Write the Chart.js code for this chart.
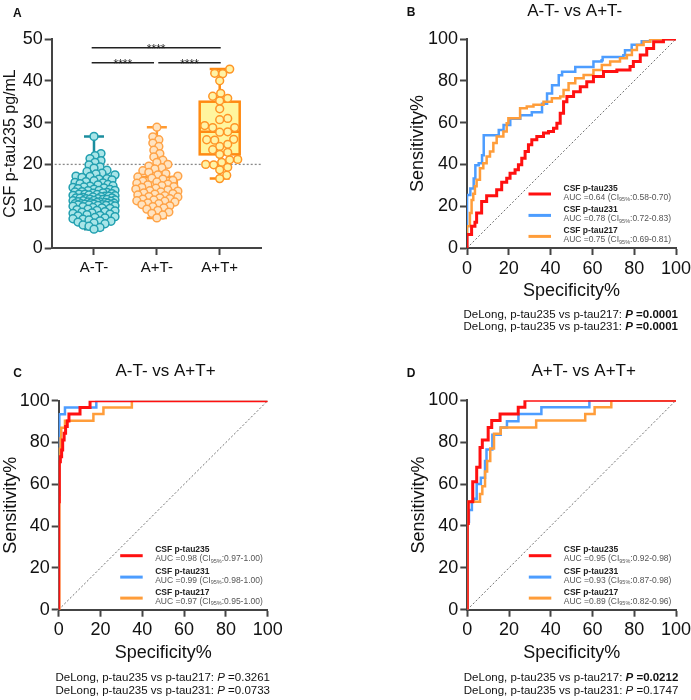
<!DOCTYPE html>
<html><head><meta charset="utf-8">
<script src="https://cdn.jsdelivr.net/npm/chart.js@4.4.1/dist/chart.umd.min.js"></script>
<style>
html,body{margin:0;padding:0;background:#fff;}
#wrap{position:relative;width:691px;height:700px;overflow:hidden;background:#fff;}
canvas{position:absolute;}
</style></head><body>
<div id="wrap">
<canvas id="cA" width="345" height="345" style="left:0;top:0"></canvas>
<canvas id="cB" width="346" height="345" style="left:345px;top:0"></canvas>
<canvas id="cC" width="345" height="355" style="left:0;top:345px"></canvas>
<canvas id="cD" width="346" height="355" style="left:345px;top:345px"></canvas>
</div>
<script>
// ---------------- DATA ----------------
const groupLabels = ['A-T-', 'A+T-', 'A+T+'];
const ptauATneg = [26.7, 22.6, 22.1, 21.4, 20.9, 20.5, 19.9, 19.4, 19.1, 18.6, 18.3, 17.9, 17.7, 17.5, 17.2, 17.1, 16.9, 16.6, 16.5, 16.3, 16.1, 15.9, 15.7, 15.6, 15.4, 15.2, 15.1, 14.9, 14.8, 14.6, 14.5, 14.4,
  14.2, 14.1, 14.0, 13.8, 13.8, 13.7, 13.5, 13.4, 13.3, 13.2, 13.1, 13.0, 12.9, 12.9, 12.8, 12.7, 12.6, 12.5, 12.4, 12.4, 12.3, 12.2, 12.1, 12.0, 12.0, 11.9, 11.8, 11.8, 11.7, 11.6, 11.6, 11.5, 11.4, 11.3, 11.3, 11.2, 11.1, 11.0, 11.0, 10.9, 10.9, 10.8, 10.7, 10.7, 10.6, 10.6, 10.5, 10.5, 10.4, 10.4, 10.3, 10.3, 10.2, 10.2, 10.1,
  10.0, 9.9, 9.7, 9.6, 9.5, 9.3, 9.2, 9.0, 8.9, 8.7, 8.6, 8.4, 8.3, 8.1, 8.0, 7.8, 7.7, 7.5, 7.3, 7.2, 7.0, 6.9, 6.7, 6.5, 6.4, 6.2, 6.0, 5.8, 5.5, 5.2, 4.9, 4.5];
const ptauAposTneg = [28.9, 26.6, 25.9, 25.1, 24.3, 23.4, 22.6, 21.8, 21.0, 20.5, 20.0, 19.6, 19.2, 18.9, 18.5, 18.1, 17.8, 17.5, 17.2, 17.0, 16.7, 16.5, 16.2, 16.0, 15.8, 15.5, 15.3, 15.1, 14.9, 14.7, 14.5, 14.3, 14.1, 13.9, 13.7, 13.6, 13.4, 13.2, 13.0, 12.9, 12.7, 12.5, 12.3, 12.2, 12.0, 11.8, 11.7, 11.5, 11.3, 11.2, 11.0, 10.8, 10.6, 10.4, 10.1, 9.9, 9.6, 9.3, 9.0, 8.6, 8.3, 7.9, 7.2];
const ptauAposTpos = [42.8, 41.8, 41.7, 40.0, 37.0, 36.3, 35.8, 35.2, 33.3, 31.0, 30.7, 29.3, 28.8, 28.8, 27.8, 27.7, 26.0, 25.9, 25.8, 24.8, 24.3, 23.5, 22.9, 22.4, 21.2, 21.1, 20.5, 20.0, 19.9, 19.3, 18.7, 17.4, 16.6];
const boxMin = [4.5, 7.2, 16.6];
const boxQ1 = [10.2, 11.5, 22.4];
const boxMedian = [11.7, 13.7, 27.8];
const boxQ3 = [14.7, 17.0, 35.0];
const boxMax = [26.7, 28.9, 42.8];
const cutoffValue = 20;
const yTicksA = [0, 10, 20, 30, 40, 50];
const sigLabel = '****';
const rocTicks = [0, 20, 40, 60, 80, 100];
const markerNames = ['CSF p-tau235', 'CSF p-tau231', 'CSF p-tau217'];

// Panel B: A-T- vs A+T-
const bTitle = 'A-T- vs A+T-';
const bRedX = [0, 0, 2.2, 3.8, 4.6, 7, 9.4, 14.2, 16.6, 19, 20.6, 23, 24.6, 26.2, 27.8, 29.4, 31, 33.4, 36.6, 39, 41.4, 43, 44.6, 46.2, 47.8, 51, 54.2, 57.3, 60.5, 65.3, 71.7, 78, 79.6, 82.9, 86, 89.3, 94, 100];
const bRedY = [0, 6.4, 10.4, 12.3, 16.7, 22.3, 25, 27.9, 31.4, 33.4, 35.8, 37.4, 39.8, 43, 46.2, 49.4, 51.8, 53.3, 55, 55.7, 57.3, 59.7, 64.5, 70, 72.5, 74.8, 77.2, 79.6, 82, 84.4, 85.2, 86.8, 89.2, 92.3, 95.5, 98.7, 100, 100];
const bBlueX = [0, 0, 1.6, 3.2, 4, 5.6, 7.2, 8, 13.5, 15.2, 17.5, 20.7, 25.5, 31, 35.9, 38.3, 40.7, 43.9, 45.5, 50.2, 51.8, 57, 60.5, 64.4, 64.9, 74.8, 75.6, 78.8, 83.6, 87.6, 100];
const bBlueY = [0, 25.4, 28.5, 33.3, 39.6, 40.5, 44.4, 54, 54, 56.4, 58.8, 61.9, 63.5, 65, 69, 73.9, 77.9, 82.7, 84.3, 84.3, 86.6, 86.6, 89.2, 89.8, 91.4, 92.2, 94.6, 97.3, 98.9, 100, 100];
const bOrangeX = [0, 0, 1.4, 2.2, 3, 3.8, 4.6, 6.2, 7.8, 9.4, 11, 12.6, 14.2, 17.4, 19, 19.8, 25.4, 28.6, 31.8, 36.6, 40.6, 44.6, 46.2, 48.6, 51.8, 55.8, 60.5, 64.5, 68.5, 73.2, 76.5, 78.9, 81.3, 84.5, 87.7, 100];
const bOrangeY = [0, 10.4, 16.7, 23, 26, 29.5, 32.6, 38.2, 40.6, 43.8, 46.2, 50.2, 53.3, 55.7, 59.7, 62.1, 66.9, 67.7, 68.5, 70, 71.7, 72.5, 75.6, 78.8, 81.2, 82.8, 85.2, 87.6, 89.2, 90.8, 92.4, 94.7, 97.1, 98.7, 100, 100];
const bAUC = ['0.64', '0.78', '0.75'];
const bCI = ['0.58-0.70', '0.72-0.83', '0.69-0.81'];
const bDeLongP = ['0.0001', '0.0001'];
const bDeLongSig = [true, true];

// Panel C: A-T- vs A+T+
const cTitle = 'A-T- vs A+T+';
const cRedX = [0, 0, 0.3, 0.8, 1.4, 1.9, 2.6, 3.3, 4.1, 4.9, 10.2, 15, 100];
const cRedY = [0, 51.7, 70.8, 73.2, 76.4, 81.2, 84.4, 87.6, 90.3, 93.6, 96.8, 100, 100];
const cBlueX = [0, 0, 0.3, 3, 18, 100];
const cBlueY = [0, 55, 93.5, 96.8, 100, 100];
const cOrangeX = [0, 0.3, 0.9, 1.2, 3.0, 16.6, 21.4, 35, 100];
const cOrangeY = [0, 77, 82, 87, 90.4, 93.6, 96.8, 100, 100];
const cAUC = ['0.98', '0.99', '0.97'];
const cCI = ['0.97-1.00', '0.98-1.00', '0.95-1.00'];
const cDeLongP = ['0.3261', '0.0733'];
const cDeLongSig = [false, false];

// Panel D: A+T- vs A+T+
const dTitle = 'A+T- vs A+T+';
const dRedX = [0, 0, 0.5, 2.6, 4.5, 6.1, 7.2, 10, 11.7, 15.7, 24.4, 27.6, 100];
const dRedY = [0, 41.2, 51.6, 61.1, 68, 77.5, 81, 87, 90.3, 93.5, 96.7, 100, 100];
const dBlueX = [0, 0, 0.8, 2.2, 3.2, 4.5, 6.5, 8.5, 9.2, 12, 16, 19, 24.5, 35.5, 58.5, 100];
const dBlueY = [0, 42, 47.6, 51.6, 53, 60, 63, 71, 76.5, 83.5, 87, 90, 93.5, 96.7, 100, 100];
const dOrangeX = [0, 0, 6.1, 7.2, 8.5, 9.5, 11, 12.8, 16, 33, 56.5, 61, 69, 100];
const dOrangeY = [0, 51.6, 55.3, 59, 66, 71, 77, 84, 87, 90.3, 93.5, 96.7, 100, 100];
const dAUC = ['0.95', '0.93', '0.89'];
const dCI = ['0.92-0.98', '0.87-0.98', '0.82-0.96'];
const dDeLongP = ['0.0212', '0.1747'];
const dDeLongSig = [true, false];
const deLongLabels = ['DeLong, p-tau235 vs p-tau217: ', 'DeLong, p-tau235 vs p-tau231: '];

// ---------------- STYLE / HELPERS ----------------
const FF = '"Liberation Sans", Arial, Helvetica, sans-serif';
const AXIS = '#444';
const rocColors = ['#ff1010', '#4d9dff', '#ff9d3a'];
const rocWidths = [3, 2.5, 2.5];
const ptColors = [
  {bg: '#a9e5e8', bd: '#22a0b0'},
  {bg: '#ffe3c0', bd: '#ffa347'},
  {bg: '#fff3a6', bd: '#ff9526'}];
const boxStyles = [
  {fill: '#c8eef0', stroke: '#1b8d9e'},
  {fill: '#fff5dc', stroke: '#ff9a30'},
  {fill: '#fff59e', stroke: '#ff8a12'}];

Chart.defaults.font.family = FF;
Chart.defaults.animation = false;

function font(size, weight, style) { return (style || '') + ' ' + (weight || 'normal') + ' ' + size + 'px ' + FF; }
function drawText(ctx, s, x, y, f, color, align) {
  ctx.font = f; ctx.fillStyle = color || '#111'; ctx.textAlign = align || 'left'; ctx.textBaseline = 'alphabetic';
  ctx.fillText(s, x, y);
}
function drawVText(ctx, s, x, y, f, color) {
  ctx.save(); ctx.translate(x, y); ctx.rotate(-Math.PI / 2);
  ctx.font = f; ctx.fillStyle = color || '#111'; ctx.textAlign = 'center'; ctx.textBaseline = 'alphabetic';
  ctx.fillText(s, 0, 0); ctx.restore();
}
function richRight(ctx, segs, xr, y, color) {
  let w = 0;
  segs.forEach(s => { ctx.font = s.f; w += ctx.measureText(s.t).width; });
  let x = xr - w;
  ctx.textAlign = 'left'; ctx.textBaseline = 'alphabetic'; ctx.fillStyle = color || '#111';
  segs.forEach(s => { ctx.font = s.f; ctx.fillText(s.t, x, y); x += ctx.measureText(s.t).width; });
}

function swarm(values, center, pxPerY, pxPerX, minDist, cap) {
  const idx = values.map((v, i) => i).sort((a, b) => values[a] - values[b]);
  const placed = [];
  const out = new Array(values.length);
  idx.forEach(i => {
    const py = values[i] * pxPerY;
    let best = 0, bestD = -1, chosen = null;
    for (let k = 0; k <= cap * 2; k++) {
      const cand = k === 0 ? 0 : (k % 2 ? 1 : -1) * Math.ceil(k / 2);
      let md = Infinity;
      for (const p of placed) { const d = Math.hypot(p.x - cand, p.y - py); if (d < md) md = d; }
      if (md >= minDist) { chosen = cand; break; }
      if (md > bestD) { bestD = md; best = cand; }
    }
    const off = chosen === null ? best : chosen;
    placed.push({x: off, y: py});
    out[i] = {x: center + off / pxPerX, y: values[i]};
  });
  return out;
}

function axisCommon(extra) {
  return Object.assign({
    type: 'linear',
    grid: {display: true, drawOnChartArea: false, drawTicks: true, tickLength: 7, tickWidth: 2, tickColor: AXIS},
    border: {display: true, color: AXIS, width: 2},
  }, extra);
}

// ---------------- PANEL A ----------------
const xMinA = 0.327, xMaxA = 3.657;
const pxPerXA = 62.85, pxPerYA = 4.186;
const groups = [ptauATneg, ptauAposTneg, ptauAposTpos];
const swarmParams = [[5.6, 21], [6.2, 21], [7.6, 21]];

const panelAPlugin = {
  id: 'panelA',
  beforeDatasetsDraw(chart) {
    const {ctx, chartArea: a, scales: {x, y}} = chart;
    ctx.save();
    ctx.strokeStyle = '#8a8a8a'; ctx.lineWidth = 1.3; ctx.setLineDash([2, 2]);
    const yc = y.getPixelForValue(cutoffValue);
    ctx.beginPath(); ctx.moveTo(a.left + 3, yc); ctx.lineTo(a.right, yc); ctx.stroke();
    ctx.setLineDash([]);
    groupLabels.forEach((g, i) => {
      const cx = x.getPixelForValue(i + 1), hw = 20, cw = 10;
      const q1 = y.getPixelForValue(boxQ1[i]), q3 = y.getPixelForValue(boxQ3[i]);
      const md = y.getPixelForValue(boxMedian[i]);
      const mn = y.getPixelForValue(boxMin[i]), mx = y.getPixelForValue(boxMax[i]);
      const st = boxStyles[i];
      ctx.lineWidth = 2.5; ctx.strokeStyle = st.stroke; ctx.fillStyle = st.fill;
      ctx.beginPath();
      ctx.moveTo(cx, q3); ctx.lineTo(cx, mx); ctx.moveTo(cx - cw, mx); ctx.lineTo(cx + cw, mx);
      ctx.moveTo(cx, q1); ctx.lineTo(cx, mn); ctx.moveTo(cx - cw, mn); ctx.lineTo(cx + cw, mn);
      ctx.stroke();
      ctx.fillRect(cx - hw, q3, hw * 2, q1 - q3);
      ctx.strokeRect(cx - hw, q3, hw * 2, q1 - q3);
      ctx.beginPath(); ctx.moveTo(cx - hw, md); ctx.lineTo(cx + hw, md); ctx.stroke();
    });
    ctx.restore();
  },
  afterDraw(chart) {
    const {ctx, chartArea: a, scales: {x, y}} = chart;
    ctx.save();
    const brackets = [[0.963, 3.016, 47.9], [0.963, 1.955, 44.3], [2.023, 3.016, 44.3]];
    ctx.strokeStyle = '#222'; ctx.lineWidth = 1.5;
    brackets.forEach(b => {
      const yy = y.getPixelForValue(b[2]);
      const x1 = x.getPixelForValue(b[0]), x2 = x.getPixelForValue(b[1]);
      ctx.beginPath(); ctx.moveTo(x1, yy); ctx.lineTo(x2, yy); ctx.stroke();
      drawText(ctx, sigLabel, (x1 + x2) / 2, yy + 5.5, font(12), '#222', 'center');
    });
    drawText(ctx, 'A', a.left - 38.7, 16.5, font(12, 'bold'), '#111');
    drawVText(ctx, 'CSF p-tau235 pg/mL', a.left - 37, (a.top + a.bottom) / 2, font(16), '#111');
    ctx.restore();
  }
};

new Chart(document.getElementById('cA'), {
  type: 'scatter',
  data: {
    datasets: groups.map((vals, i) => ({
      data: swarm(vals, i + 1, pxPerYA, pxPerXA, swarmParams[i][0], swarmParams[i][1]),
      backgroundColor: ptColors[i].bg, borderColor: ptColors[i].bd,
      pointRadius: 3.9, borderWidth: 1.5, pointHoverRadius: 3.9
    }))
  },
  options: {
    responsive: false, animation: false,
    layout: {padding: {left: 0, top: 39, right: 84, bottom: 0}},
    plugins: {legend: {display: false}, tooltip: {enabled: false}},
    scales: {
      x: axisCommon({
        min: xMinA, max: xMaxA,
        afterBuildTicks: s => { s.ticks = groupLabels.map((g, i) => ({value: i + 1})); },
        afterFit: s => { s.height = 97; s.paddingLeft = 0; s.paddingRight = 0; },
        ticks: {color: '#111', font: {size: 15}, padding: 4, maxRotation: 0, autoSkip: false,
          callback: v => groupLabels[Math.round(v) - 1] || ''}
      }),
      y: axisCommon({
        min: 0, max: 50,
        afterBuildTicks: s => { s.ticks = yTicksA.map(v => ({value: v})); },
        afterFit: s => { s.width = 51.7; s.paddingTop = 0; s.paddingBottom = 0; },
        ticks: {color: '#111', font: {size: 18}, padding: 2}
      })
    }
  },
  plugins: [panelAPlugin]
});

// ---------------- ROC PANELS ----------------
function rocChart(id, cfg) {
  const series = cfg.series;
  const plugin = {
    id: 'roc' + id,
    afterDraw(chart) {
      const {ctx, chartArea: a} = chart;
      ctx.save();
      drawText(ctx, cfg.letter, a.left + cfg.letterDx, a.top + cfg.letterDy, font(12, 'bold'), '#111');
      drawText(ctx, cfg.title, a.left + cfg.titleDx, a.top + cfg.titleDy, font(17), '#111', 'center');
      drawVText(ctx, 'Sensitivity%', a.left + cfg.yTitleDx, (a.top + a.bottom) / 2, font(18), '#111');
      drawText(ctx, 'Specificity%', (a.left + a.right) / 2, a.bottom + 48, font(18), '#111', 'center');
      const offs = [54, 32.6, 11.6];
      markerNames.forEach((m, i) => {
        const ly = a.bottom - offs[i];
        ctx.strokeStyle = rocColors[i]; ctx.lineWidth = 3; ctx.setLineDash([]);
        ctx.beginPath(); ctx.moveTo(a.left + 61.5, ly); ctx.lineTo(a.left + 84, ly); ctx.stroke();
        const tx = a.left + 96.5;
        drawText(ctx, m, tx, ly - 3.3, font(8.5, 'bold'), '#222');
        ctx.font = font(8.5); ctx.fillStyle = '#555'; ctx.textAlign = 'left';
        let xx = tx;
        const s1 = 'AUC =' + cfg.auc[i] + ' (CI';
        ctx.fillText(s1, xx, ly + 5.7); xx += ctx.measureText(s1).width;
        ctx.font = font(5.5); ctx.fillText('95%', xx, ly + 7.2); xx += ctx.measureText('95%').width;
        ctx.font = font(8.5); ctx.fillText(':' + cfg.ci[i] + ')', xx, ly + 5.7);
      });
      cfg.pvals.forEach((p, i) => {
        const sig = cfg.sig[i];
        richRight(ctx, [
          {t: deLongLabels[i], f: font(11.5)},
          {t: 'P', f: font(11.5, sig ? 'bold' : 'normal', 'italic')},
          {t: ' =' + p, f: font(11.5, sig ? 'bold' : 'normal')}
        ], a.right + cfg.dlDx, a.bottom + cfg.dlDy[i], '#111');
      });
      ctx.restore();
    }
  };
  return new Chart(document.getElementById(id), {
    type: 'line',
    data: {
      datasets: [0, 2, 1].map(i => ({
        data: series[i].x.map((v, k) => ({x: v, y: series[i].y[k]})),
        borderColor: rocColors[i], borderWidth: rocWidths[i], stepped: 'before',
        pointRadius: 0, tension: 0, fill: false
      })).concat([{
        data: [{x: 0, y: 0}, {x: 100, y: 100}], borderColor: '#707070', borderWidth: 1,
        borderDash: [2, 2], pointRadius: 0, fill: false
      }])
    },
    options: {
      responsive: false, animation: false,
      layout: {padding: {left: 0, top: cfg.top, right: cfg.right, bottom: 0}},
      plugins: {legend: {display: false}, tooltip: {enabled: false}},
      scales: {
        x: axisCommon({
          min: 0, max: 100,
          afterBuildTicks: s => { s.ticks = rocTicks.map(v => ({value: v})); },
          afterFit: s => { s.height = cfg.xh; s.paddingLeft = 0; s.paddingRight = 0; },
          ticks: {color: '#111', font: {size: 18}, padding: 3, maxRotation: 0, autoSkip: false}
        }),
        y: axisCommon({
          min: 0, max: 100,
          afterBuildTicks: s => { s.ticks = rocTicks.map(v => ({value: v})); },
          afterFit: s => { s.width = cfg.yw; s.paddingTop = 0; s.paddingBottom = 0; },
          ticks: {color: '#111', font: {size: 18}, padding: 2}
        })
      }
    },
    plugins: [plugin]
  });
}

rocChart('cB', {
  series: [{x: bRedX, y: bRedY}, {x: bBlueX, y: bBlueY}, {x: bOrangeX, y: bOrangeY}],
  auc: bAUC, ci: bCI, pvals: bDeLongP, sig: bDeLongSig, title: bTitle, letter: 'B',
  top: 39, right: 15, xh: 97, yw: 122,
  letterDx: -60.3, letterDy: -23, titleDx: 107.7, titleDy: -23.5, yTitleDx: -44,
  dlDx: 2, dlDy: [70, 82]
});
rocChart('cC', {
  series: [{x: cRedX, y: cRedY}, {x: cBlueX, y: cBlueY}, {x: cOrangeX, y: cOrangeY}],
  auc: cAUC, ci: cCI, pvals: cDeLongP, sig: cDeLongSig, title: cTitle, letter: 'C',
  top: 55.7, right: 77.3, xh: 90.3, yw: 58.7,
  letterDx: -45.4, letterDy: -24, titleDx: 106.8, titleDy: -24.7, yTitleDx: -43.2,
  dlDx: 2.3, dlDy: [71, 84]
});
rocChart('cD', {
  series: [{x: dRedX, y: dRedY}, {x: dBlueX, y: dBlueY}, {x: dOrangeX, y: dOrangeY}],
  auc: dAUC, ci: dCI, pvals: dDeLongP, sig: dDeLongSig, title: dTitle, letter: 'D',
  top: 55.3, right: 15, xh: 90.3, yw: 122.3,
  letterDx: -60.6, letterDy: -23.6, titleDx: 116.4, titleDy: -24.3, yTitleDx: -43.8,
  dlDx: 2.3, dlDy: [71, 84]
});
</script>
</body></html>
